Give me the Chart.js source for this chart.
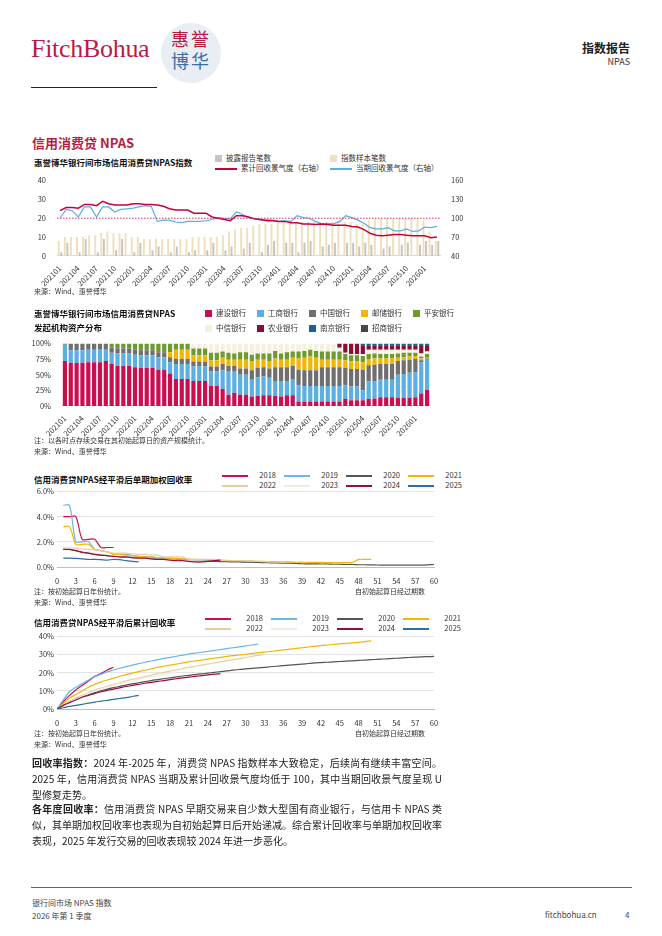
<!DOCTYPE html>
<html lang="zh">
<head>
<meta charset="UTF-8">
<title>信用消费贷 NPAS</title>
<script src="https://cdn.jsdelivr.net/npm/chart.js"></script>
<style>
  body { margin:0; width:662px; height:936px; position:relative; background:#fff;
         font-family:"Noto Sans CJK SC","Noto Sans",sans-serif; color:#222; overflow:hidden; }
  .abs { position:absolute; }
  .ctitle { font-size:8.5px; font-weight:bold; color:#111; line-height:14px; }
  .note { font-size:7px; color:#333; line-height:11px; }
  .legend { font-size:7.5px; color:#333; display:grid; column-gap:8px; row-gap:0; line-height:10px; }
  .legend span.sw { display:inline-block; vertical-align:middle; margin-right:4px; }
  .para { font-size:10px; line-height:16px; width:410px; text-align:justify; }
  .chartbox canvas { display:block; }
</style>
</head>
<body>
<!-- header -->
<div class="abs" style="left:31px;top:34px;font-family:'Liberation Serif',serif;font-size:26px;color:#b71c45;letter-spacing:-0.3px">FitchBohua</div>
<div class="abs" style="left:161px;top:23px;width:60px;height:60px;border-radius:50%;background:#e9edf4;"></div>
<div class="abs" style="left:171px;top:27px;font-family:'Noto Sans CJK SC';font-size:18px;line-height:22px;width:44px;letter-spacing:2px;">
  <span style="color:#b71c45">惠誉</span><br><span style="color:#3a6ea8">博华</span></div>
<div class="abs" style="left:31px;top:87px;width:126px;height:1px;background:#222"></div>
<div class="abs" style="right:32px;top:39px;font-size:12px;font-weight:bold;color:#222">指数报告</div>
<div class="abs" style="right:32px;top:55px;font-size:9px;color:#333">NPAS</div>
<div class="abs" style="left:32px;top:133px;font-size:13px;font-weight:bold;color:#b71c45">信用消费贷 NPAS</div>

<!-- chart 1 -->
<div class="abs ctitle" style="left:34px;top:155px">惠誉博华银行间市场信用消费贷NPAS指数</div>
<div class="abs legend" id="leg1" style="left:215px;top:153px;grid-template-columns:115px 115px;column-gap:0"></div>
<div class="abs chartbox" style="left:32px;top:173px;width:448px;height:115px"><canvas id="c1"></canvas></div>
<div class="abs note" style="left:34px;top:286px">来源：Wind、惠誉博华</div>

<!-- chart 2 -->
<div class="abs ctitle" style="left:34px;top:306px">惠誉博华银行间市场信用消费贷NPAS<br>发起机构资产分布</div>
<div class="abs legend" id="leg2" style="left:205px;top:308px;grid-template-columns:repeat(5,44px);row-gap:5px"></div>
<div class="abs chartbox" style="left:32px;top:336px;width:412px;height:102px"><canvas id="c2"></canvas></div>
<div class="abs note" style="left:34px;top:435px">注：以各时点存续交易在其初始起算日的资产规模统计。<br>来源：Wind、惠誉博华</div>

<!-- chart 3 -->
<div class="abs ctitle" style="left:34px;top:472px">信用消费贷NPAS经平滑后单期加权回收率</div>
<div class="abs legend" id="leg3" style="left:222px;top:470px;grid-template-columns:repeat(4,54px)"></div>
<div class="abs chartbox" style="left:30px;top:484px;width:412px;height:104px"><canvas id="c3"></canvas></div>
<div class="abs note" style="left:34px;top:586px">注：按初始起算日年份统计。<br>来源：Wind、惠誉博华</div>
<div class="abs note" style="left:355px;top:586px">自初始起算日经过期数</div>

<!-- chart 4 -->
<div class="abs ctitle" style="left:34px;top:615px">信用消费贷NPAS经平滑后累计回收率</div>
<div class="abs legend" id="leg4" style="left:205px;top:613px;grid-template-columns:repeat(4,58px)"></div>
<div class="abs chartbox" style="left:30px;top:629px;width:412px;height:101px"><canvas id="c4"></canvas></div>
<div class="abs note" style="left:34px;top:728px">注：按初始起算日年份统计。<br>来源：Wind、惠誉博华</div>
<div class="abs note" style="left:355px;top:728px">自初始起算日经过期数</div>

<!-- text -->
<div class="abs para" style="left:32px;top:755px"><b>回收率指数：</b>2024 年-2025 年，消费贷 NPAS 指数样本大致稳定，后续尚有继续丰富空间。2025 年，信用消费贷 NPAS 当期及累计回收景气度均低于 100，其中当期回收景气度呈现 U 型修复走势。</div>
<div class="abs para" style="left:32px;top:801px"><b>各年度回收率：</b>信用消费贷 NPAS 早期交易来自少数大型国有商业银行，与信用卡 NPAS 类似，其单期加权回收率也表现为自初始起算日后开始递减。综合累计回收率与单期加权回收率表现，2025 年发行交易的回收表现较 2024 年进一步恶化。</div>

<!-- footer -->
<div class="abs" style="left:31px;top:887px;width:601px;height:1px;background:#666"></div>
<div class="abs" style="left:32px;top:896px;font-size:8px;color:#444;line-height:13px">银行间市场 NPAS 指数<br>2026 年第 1 季度</div>
<div class="abs" style="left:545px;top:909px;font-size:8px;color:#444">fitchbohua.cn</div>
<div class="abs" style="left:625px;top:909px;font-size:8px;color:#444">4</div>

<script>
// ---- data ----
const months = [
 '202101','202102','202103','202104','202105','202106','202107','202108','202109','202110','202111','202112',
 '202201','202202','202203','202204','202205','202206','202207','202208','202209','202210','202211','202212',
 '202301','202302','202303','202304','202305','202306','202307','202308','202309','202310','202311','202312',
 '202401','202402','202403','202404','202405','202406','202407','202408','202409','202410','202411','202412',
 '202501','202502','202503','202504','202505','202506','202507','202508','202509','202510','202511','202512',
 '202601','202602','202603'];

// chart 1
const reportCount = [
 2,7,0,2,9,0,2,9,0,3,9,0, 2,7,0,3,5,0,2,5,0,2,3,0,
 3,7,0,3,5,0,4,7,0,2,6,8, 0,7,7,2,7,8,0,5,6,7,0,7,
 7,5,7,6,0,4,5,0,6,7,0,6, 8,6,8];
const sampleCount = [
 8,10,10,10,10,11, 11,12,13,12,12,12, 10,10,9,9,9,9, 9,9,9,9,10,10,
 10,10,10,11,13,14, 15,15,16,17,17,17, 18,18,18,18,18,18, 18,18,18,18,18,18,
 18,17,17,19,20,20, 20,20,20,20,20,20, 19,13,8];
const cumIndex = [
 112,117,117,116,122,122,120,127,123,121,121,121,
 123,123,122,122,121,119,115,113,113,113,108,108,
 108,102,100,98,96,104,104,102,99,98,96,96,
 95,95,93,93,91,91,90,91,90,89,89,89,
 87,86,82,76,73,72,73,74,74,73,72,72,
 72,69,70];
const curIndex = [
 100,114,112,102,118,118,102,118,118,110,114,115,
 116,118,120,119,95,97,97,94,93,95,95,95,
 96,98,101,100,99,110,106,101,99,97,98,97,
 95,96,95,104,101,100,95,91,92,91,95,104,
 101,97,92,85,83,83,85,80,80,83,79,80,
 86,85,87];
const refLevel = 100;

// chart 2 (percent of stock)
const banks = ['建设银行','工商银行','中国银行','邮储银行','平安银行','中信银行','农业银行','南京银行','招商银行'];
const bankColors = ['#c8104f','#5bafe2','#6f6f6f','#f2b705','#6f9a2e','#f4f1dc','#8a0f33','#1e5f91','#474747'];
const shareCCB = [72,69,69,69,70,70,70,72,67,64,64,64, 62,61,61,61,58,58,52,43,43,43,40,40,
 40,32,32,27,18,21,18,18,15,16,17,17, 16,15,17,17,7,7,7,7,7,7,7,7,
 11,9,9,9,11,12,14,14,14,13,13,13, 14,20,26];
const shareICBC = [26,20,20,20,20,20,20,18,18,20,20,20, 20,20,20,20,20,20,18,24,24,24,23,23,
 23,23,23,30,38,35,32,32,27,30,30,28, 24,25,23,25,26,25,25,25,25,25,25,25,
 22,22,22,16,28,28,28,28,28,37,38,40, 40,50,48];
const shareBOC = [2,11,11,11,10,10,10,10,8,8,8,8, 8,8,8,8,8,8,8,8,8,8,8,8,
 8,8,8,10,8,8,10,10,15,15,15,15, 22,22,22,22,25,25,25,25,30,30,30,30,
 28,28,28,33,26,26,25,25,25,22,22,21, 21,3,2];
const sharePSBC = [0,0,0,0,0,0,0,0,0,0,0,0, 0,0,0,0,0,0,8,15,15,15,10,10,
 10,10,10,10,10,10,14,14,15,13,12,12, 14,12,12,13,18,20,22,20,12,12,12,12,
 12,12,12,12,10,10,9,9,9,5,5,5, 5,3,1];
const sharePAB = [0,0,0,0,0,0,0,0,7,8,8,8, 10,11,11,11,14,14,14,10,10,10,11,11,
 11,12,12,10,11,10,12,12,10,10,10,12, 12,10,12,10,11,11,11,11,13,13,13,13,
 10,10,10,10,8,8,7,7,7,7,7,6, 5,3,6];
const shareCITIC = [0,0,0,0,0,0,0,0,0,0,0,0, 0,0,0,0,0,0,0,0,0,0,8,8,
 8,15,15,13,15,16,14,14,18,16,16,16, 12,16,14,13,13,12,10,12,13,13,13,6,
 2,2,2,3,7,6,7,7,7,6,5,5, 5,5,4];
const shareABC = [0,0,0,0,0,0,0,0,0,0,0,0, 0,0,0,0,0,0,0,0,0,0,0,0,
 0,0,0,0,0,0,0,0,0,0,0,0, 0,0,0,0,0,0,0,0,0,0,0,7,
 15,17,17,14,7,7,7,7,7,7,7,7, 7,12,9];
const shareNJ = [0,0,0,0,0,0,0,0,0,0,0,0, 0,0,0,0,0,0,0,0,0,0,0,0,
 0,0,0,0,0,0,0,0,0,0,0,0, 0,0,0,0,0,0,0,0,0,0,0,0,
 0,0,0,3,3,3,3,3,3,3,3,3, 3,4,4];
const shareCMB = [0,0,0,0,0,0,0,0,0,0,0,0, 0,0,0,0,0,0,0,0,0,0,0,0,
 0,0,0,0,0,0,0,0,0,0,0,0, 0,0,0,0,0,0,0,0,0,0,0,0,
 0,0,0,0,0,0,0,0,0,0,0,0, 0,0,0];
const bankShares = [shareCCB,shareICBC,shareBOC,sharePSBC,sharePAB,shareCITIC,shareABC,shareNJ,shareCMB];

// charts 3 and 4 (vintages)
const vintages = ['2018','2019','2020','2021','2022','2023','2024','2025'];
const vintageColors = ['#c8104f','#6bb7e6','#555555','#f2b705','#e6cf9e','#efece2','#9b0c3a','#2a6fa5'];
const periods = [0,1,2,3,4,5,6,7,8,9,10,11,12,13,14,15,16,17,18,19,20,21,22,23,24,25,26,27,28,29,30,
 31,32,33,34,35,36,37,38,39,40,41,42,43,44,45,46,47,48,49,50,51,52,53,54,55,56,57,58,59,60];
// single-period rate (%), starting at period 1
const single2018 = [4.0,4.0,4.0,2.2,2.2,2.2,1.55,1.55,1.55];
const single2019 = [4.9,4.9,2.0,2.0,2.0,1.4,1.3,1.2,1.05,1.0,1.0,0.9,0.85,0.8,0.8,0.75,0.7,0.7,0.65,0.65,0.6,0.55,0.55,0.5,0.5,0.5,0.45,0.45,0.45,0.4,0.4,0.4];
const single2020 = [1.4,1.4,1.3,1.2,1.1,1.0,0.95,0.9,0.85,0.8,0.78,0.75,0.72,0.7,0.68,0.65,0.62,0.6,0.58,0.55,0.5,0.48,0.45,0.45,0.45,0.42,0.42,0.4,0.4,0.38,0.38,0.36,0.35,0.33,0.32,0.3,0.3,0.28,0.26,0.25,0.25,0.24,0.24,0.22,0.22,0.2,0.2,0.18,0.18,0.17,0.16,0.15,0.15,0.15,0.15,0.15,0.15,0.15,0.17,0.2];
const single2021 = [3.2,3.2,1.8,1.8,1.8,1.4,1.3,1.2,1.0,1.0,0.95,0.9,0.85,0.8,0.78,0.75,0.72,0.7,0.68,0.65,0.62,0.6,0.58,0.58,0.56,0.55,0.52,0.5,0.5,0.48,0.46,0.45,0.44,0.42,0.42,0.4,0.4,0.38,0.38,0.37,0.36,0.36,0.35,0.35,0.35,0.35,0.35,0.6,0.6,0.6];
const single2022 = [1.5,1.5,1.5,1.45,1.4,1.35,1.3,1.2,1.1,1.1,1.1,1.05,1.0,1.0,0.95,0.95,0.8,0.8,0.8,0.8,0.6,0.6,0.6,0.6,0.6,0.55,0.5,0.5,0.5,0.5,0.48,0.45,0.42,0.4,0.4,0.38];
const single2023 = [1.5,1.45,1.4,1.3,1.2,1.1,1.0,0.95,0.9,0.85,0.8,0.75,0.7,0.68,0.65,0.62,0.6,0.58,0.55,0.52,0.5,0.48,0.46,0.45];
const single2024 = [1.4,1.4,1.3,1.15,1.1,1.0,0.95,0.9,0.85,0.8,0.8,0.75,0.7,0.7,0.65,0.6,0.6,0.55,0.5,0.5,0.45,0.4,0.4,0.45,0.5,0.55];
const single2025 = [0.7,0.7,0.68,0.65,0.6,0.6,0.58,0.55,0.6,0.58,0.5,0.45,0.4];
// cumulative rate (%), starting at period 0
const cum2018 = [0,4,7.5,10.5,13,15.5,18,19.5,21.5,23];
const cum2019 = [0,5,9.5,12,14,16,17.8,19.2,20.5,21.5,22.5,23.4,24.2,25,25.8,26.5,27.2,27.9,28.5,29.1,29.7,30.3,30.8,31.3,31.8,32.3,32.8,33.3,33.8,34.3,34.8,35.3,35.8];
const cum2020 = [0,2,4,5.5,7,8,9,10,11,11.8,12.5,13.2,13.9,14.5,15.1,15.7,16.2,16.7,17.2,17.7,18.2,18.6,19,19.4,19.8,20.2,20.6,21,21.4,21.8,22.1,22.4,22.7,23,23.3,23.6,23.9,24.2,24.5,24.8,25.1,25.4,25.6,25.8,26,26.2,26.4,26.6,26.8,27,27.2,27.4,27.6,27.8,28,28.2,28.4,28.6,28.8,28.9,29];
const cum2021 = [0,3,6,8,10,12,13.5,15,16,17,18,19,19.8,20.6,21.4,22.2,23,23.6,24.2,24.8,25.4,26,26.5,27,27.5,28,28.5,29,29.4,29.8,30.2,30.6,31,31.4,31.8,32.2,32.6,33,33.4,33.8,34.2,34.6,35,35.3,35.6,35.9,36.2,36.5,36.8,37.2,37.6];
const cum2022 = [0,2,4,6,7.5,9,10.5,11.5,12.5,13.5,14.5,15.5,16.3,17.1,17.9,18.7,19.5,20.2,20.9,21.6,22.3,23,23.6,24.2,24.8,25.4,26,26.6,27.2,27.8,28.4,29,29.6,30.2];
const cum2023 = [0,1.8,3.6,5.3,7,8.5,9.8,11,12.1,13.1,14,14.9,15.7,16.5,17.2,17.9,18.5,19.1,19.7,20.2];
const cum2024 = [0,2,3.5,5,6.5,7.5,8.5,9.5,10.3,11,11.7,12.4,13,13.6,14.2,14.7,15.2,15.7,16.2,16.7,17.2,17.6,18,18.4,18.8,19.2,19.5];
const cum2025 = [0,0.7,1.4,2,2.6,3.2,3.8,4.3,4.8,5.3,5.8,6.3,6.9,7.5];
const singleRates = [single2018,single2019,single2020,single2021,single2022,single2023,single2024,single2025];
const cumRates = [cum2018,cum2019,cum2020,cum2021,cum2022,cum2023,cum2024,cum2025];

// ---- common ----
Chart.defaults.font.family = '"Noto Sans CJK SC","Noto Sans",sans-serif';
Chart.defaults.font.size = 7.5;
Chart.defaults.color = '#333';
Chart.defaults.animation = false;
Chart.defaults.maintainAspectRatio = false;
Chart.defaults.plugins.legend.display = false;
Chart.defaults.plugins.tooltip.enabled = false;

function legendItem(label, color, kind) {
  const sw = kind === 'box'
    ? `<span class="sw" style="width:7px;height:7px;background:${color}"></span>`
    : `<span class="sw" style="width:22px;height:1.5px;background:${color}"></span>`;
  return `<div style="white-space:nowrap">${sw}${label}</div>`;
}

const fixLeft = w => ({ afterFit: s => { s.width = w; } });

// ---- chart 1 ----
document.getElementById('leg1').innerHTML =
  legendItem('披露报告笔数', '#c4c4c4', 'box') + legendItem('指数样本笔数', '#efe0bc', 'box') +
  legendItem('累计回收景气度（右轴）', '#c8003c', 'line') + legendItem('当期回收景气度（右轴）', '#5aaee0', 'line');

const refLine = {
  id: 'refLine',
  afterDatasetsDraw(chart) {
    const y = chart.scales.yR.getPixelForValue(refLevel);
    const { left, right } = chart.chartArea;
    const ctx = chart.ctx;
    ctx.save();
    ctx.strokeStyle = '#d6336c';
    ctx.lineWidth = 1;
    ctx.setLineDash([1.5, 1.5]);
    ctx.beginPath(); ctx.moveTo(left, y); ctx.lineTo(right, y); ctx.stroke();
    ctx.restore();
  }
};

new Chart(document.getElementById('c1'), {
  data: {
    labels: months,
    datasets: [
      { type: 'line', data: cumIndex, yAxisID: 'yR', borderColor: '#c8003c', borderWidth: 1.5, pointRadius: 0, order: 0 },
      { type: 'line', data: curIndex, yAxisID: 'yR', borderColor: '#5aaee0', borderWidth: 1.2, pointRadius: 0, order: 1 },
      { type: 'bar', data: reportCount, backgroundColor: '#c4c4c4', yAxisID: 'y', barPercentage: 0.75, categoryPercentage: 0.85, order: 3 },
      { type: 'bar', data: sampleCount, backgroundColor: '#efe0bc', yAxisID: 'y', barPercentage: 0.75, categoryPercentage: 0.85, order: 2 }
    ]
  },
  options: {
    layout: { padding: { top: 4, right: 0 } },
    scales: {
      x: { grid: { display: false }, border: { color: '#d9d9d9' },
           ticks: { autoSkip: false, maxRotation: 45, minRotation: 45, padding: 0,
                    callback: (v, i) => i % 3 === 0 ? months[i] : '' } },
      y: { min: 0, max: 40, grid: { display: false }, border: { display: false },
           ticks: { stepSize: 10 }, ...fixLeft(25) },
      yR: { position: 'right', min: 40, max: 160, grid: { display: false }, border: { display: false },
            ticks: { stepSize: 30 }, ...fixLeft(40) }
    }
  },
  plugins: [refLine]
});

// ---- chart 2 ----
document.getElementById('leg2').innerHTML = banks.map((b, i) => legendItem(b, bankColors[i], 'box')).join('');

new Chart(document.getElementById('c2'), {
  type: 'bar',
  data: {
    labels: months,
    datasets: banks.map((b, i) => ({ label: b, data: bankShares[i], backgroundColor: bankColors[i],
      barPercentage: 0.72, categoryPercentage: 1 }))
  },
  options: {
    layout: { padding: { top: 3, right: 14 } },
    scales: {
      x: { stacked: true, grid: { display: false }, border: { color: '#d9d9d9' },
           ticks: { autoSkip: false, maxRotation: 45, minRotation: 45, padding: 0,
                    callback: (v, i) => i % 3 === 0 ? months[i] : '' } },
      y: { stacked: true, min: 0, max: 100, grid: { display: false }, border: { display: false },
           ticks: { stepSize: 25, callback: v => v + '%' }, ...fixLeft(30) }
    }
  }
});

// ---- charts 3 & 4 ----
function vintageChart(id, legId, rates, startAt, yMax, yStep, fmt) {
  document.getElementById(legId).innerHTML = vintages.map((v, i) =>
    `<div style="text-align:right">${'<span class="sw" style="width:26px;height:1.5px;background:' + vintageColors[i] + ';float:left;margin-top:5px"></span>'}${v}</div>`).join('');
  new Chart(document.getElementById(id), {
    type: 'line',
    data: {
      datasets: vintages.map((v, i) => ({
        label: v,
        data: rates[i].map((r, k) => ({ x: periods[k + startAt], y: r })),
        borderColor: vintageColors[i], borderWidth: 1.2, pointRadius: 0, tension: 0.3
      })).reverse()
    },
    options: {
      layout: { padding: { top: 4, right: 8 } },
      scales: {
        x: { type: 'linear', min: 0, max: 60, grid: { display: false }, border: { color: '#bfbfbf' },
             ticks: { stepSize: 3, autoSkip: false, maxRotation: 0, padding: 2 } },
        y: { min: 0, max: yMax, grid: { color: '#e3e3e3', drawTicks: false }, border: { display: false },
             ticks: { stepSize: yStep, padding: 3, callback: fmt }, ...fixLeft(27) }
      }
    }
  });
}
vintageChart('c3', 'leg3', singleRates, 1, 6, 2, v => v.toFixed(1) + '%');
vintageChart('c4', 'leg4', cumRates, 0, 40, 10, v => v + '%');
</script>
</body>
</html>
